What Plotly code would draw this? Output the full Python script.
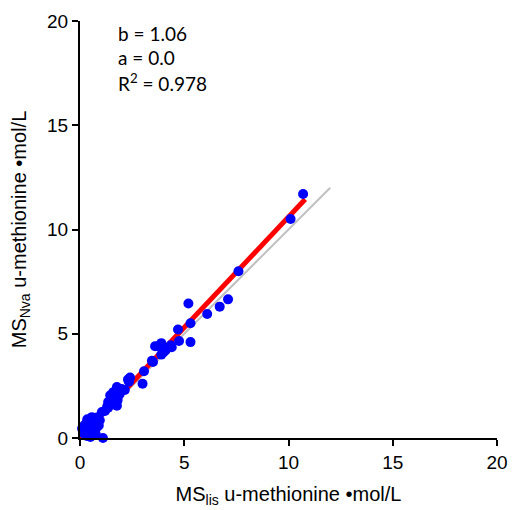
import plotly.graph_objects as go

# Data points (MS_lis, MS_Nva) in µmol/L
x_vals = [10.7, 10.1, 7.6, 7.1, 6.7, 6.1, 5.2, 5.3, 5.3, 4.7, 4.75,
          4.4, 4.35, 4.1, 4.0, 3.9, 3.9, 3.75, 3.6, 3.5, 3.45, 3.07, 3.0,
          2.4, 2.3, 2.35, 2.15, 1.77, 1.7, 1.6, 1.45, 1.8, 1.8, 1.77, 1.35, 1.3, 1.35,
          1.05, 0.85, 0.57, 0.48, 0.8, 0.4, 0.24, 0.15, 0.57, 1.1, 0.33,
          0.2, 0.3, 0.45, 0.6, 0.7, 0.9, 0.1, 0.25, 0.5, 0.65, 0.35, 0.75,
          1.2, 1.5, 1.9, 2.0, 0.95]
y_vals = [11.7, 10.5, 8.0, 6.65, 6.3, 5.95, 6.45, 5.5, 4.6, 5.2, 4.65,
          4.35, 4.45, 4.2, 4.1, 4.0, 4.55, 4.4, 4.4, 3.65, 3.7, 3.2, 2.6,
          2.9, 2.8, 2.7, 2.3, 2.45, 2.2, 2.2, 2.05, 1.9, 1.8, 1.55, 1.73, 1.5, 1.45,
          1.25, 1.0, 1.0, 0.85, 0.5, 0.55, 0.4, 0.25, 0.24, 0.0, 0.1,
          0.6, 0.7, 0.35, 0.65, 0.75, 0.6, 0.45, 0.15, 0.05, 0.3, 0.9, 0.2,
          1.3, 1.7, 2.1, 2.35, 0.85]

slope = 1.06
intercept = 0.0
fit_x = [0.0, 10.8]
identity_x = [0.0, 12.0]

x_ticks = [0, 5, 10, 15, 20]
y_ticks = [0, 5, 10, 15, 20]

fig = go.Figure()
fig.add_trace(go.Scatter(x=identity_x, y=identity_x, mode="lines",
                         line=dict(color="#c0c0c0", width=2), hoverinfo="skip"))
fig.add_trace(go.Scatter(x=fit_x, y=[slope * v + intercept for v in fit_x], mode="lines",
                         line=dict(color="#ff0000", width=5), hoverinfo="skip"))
fig.add_trace(go.Scatter(x=x_vals, y=y_vals, mode="markers",
                         marker=dict(color="#0000ff", size=10, line=dict(width=0)),
                         cliponaxis=False))

axis_common = dict(range=[0, 20], tickvals=x_ticks, showgrid=False, zeroline=False,
                   showline=True, linecolor="black", linewidth=2, automargin=False,
                   ticks="outside", ticklen=6, tickwidth=2, tickcolor="black",
                   tickfont=dict(family="Liberation Sans", size=19, color="black"))

title_font = dict(family="Liberation Sans", size=20, color="black")

fig.update_layout(
    width=513, height=510,
    margin=dict(l=80, r=16, t=21, b=72),
    plot_bgcolor="white", paper_bgcolor="white",
    showlegend=False,
    xaxis=dict(axis_common,
               title=dict(text="MS<sub>lis</sub> u-methionine •mol/L", font=title_font)),
    yaxis=dict(axis_common, tickvals=y_ticks,
               title=dict(text="MS<sub>Nva</sub> u-methionine •mol/L", font=title_font)),
)

texts = ["b = 1.06", "a = 0.0", "R<sup>2</sup> = 0.978"]
ys = [33, 57, 82]
for t, yp in zip(texts, ys):
    fig.add_annotation(x=(116 - 80) / 417, y=1 - (yp - 21) / 417, xref="paper", yref="paper",
                       xanchor="left", yanchor="middle", showarrow=False, text=t,
                       font=dict(family="Lato", size=19, color="black"))

fig.write_html("out.html")
